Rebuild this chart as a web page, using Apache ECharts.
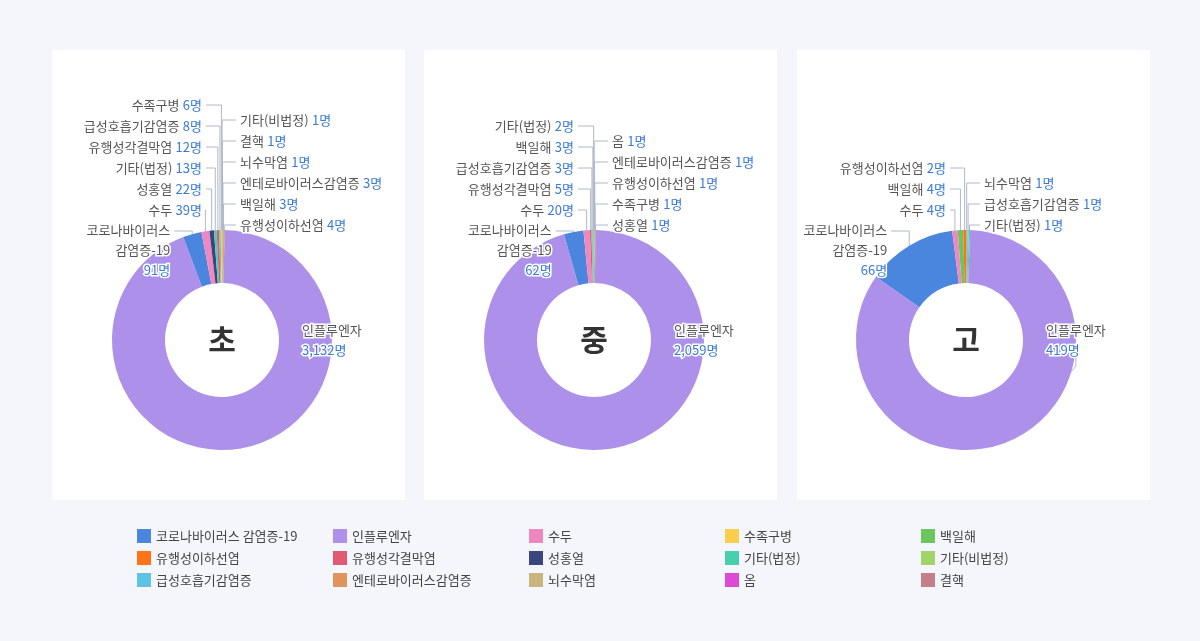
<!DOCTYPE html><html><head><meta charset="utf-8">
<script src="https://cdn.jsdelivr.net/npm/echarts@6/dist/echarts.min.js"></script>
<style>html,body{margin:0;background:#f4f6fb}#c{width:1200px;height:641px}</style></head><body><div id="c"></div>
<script>
const categories=['코로나바이러스 감염증-19','인플루엔자','수두','수족구병','백일해','유행성이하선염','유행성각결막염','성홍열','기타(법정)','기타(비법정)','급성호흡기감염증','엔테로바이러스감염증','뇌수막염','옴','결핵'];
const colors=['#4a86dd','#ad90ea','#ee88c0','#fdcd4e','#6cc55e','#fd7418','#e05a72','#3a4680','#48d0ae','#a3d46a','#5cc4e2','#e0935a','#c9b57c','#dd4bd6','#c28089'];
const schools=['초','중','고'];
// order of slices clockwise from top
const elemNames=['기타(비법정)','결핵','뇌수막염','엔테로바이러스감염증','백일해','유행성이하선염','인플루엔자','코로나바이러스 감염증-19','수두','성홍열','기타(법정)','유행성각결막염','급성호흡기감염증','수족구병'];
const elemValues=[1,1,1,3,3,4,3132,91,39,22,13,12,8,6];
const midNames=['옴','엔테로바이러스감염증','유행성이하선염','수족구병','성홍열','인플루엔자','코로나바이러스 감염증-19','수두','유행성각결막염','급성호흡기감염증','백일해','기타(법정)'];
const midValues=[1,1,1,1,1,2059,62,20,5,3,3,2];
const highNames=['뇌수막염','급성호흡기감염증','기타(법정)','인플루엔자','코로나바이러스 감염증-19','수두','백일해','유행성이하선염'];
const highValues=[1,1,1,419,66,4,4,2];
const sets=[[elemNames,elemValues],[midNames,midValues],[highNames,highValues]];
const centers=[222,594,966];
const panelX=[52,424,797];
const CORONA='코로나바이러스 감염증-19', FLU='인플루엔자';
const richBase={n:{color:'#555',fontSize:13,fontFamily:'Noto Sans CJK KR',lineHeight:20,textBorderColor:'#fff',textBorderWidth:3},
                v:{color:'#3a7bd5',fontSize:13,fontFamily:'Noto Sans CJK KR',lineHeight:20,textBorderColor:'#fff',textBorderWidth:3}};
const series=sets.map((s,i)=>{
  const names=s[0], cx=centers[i], fi=names.indexOf(FLU);
  return {
  type:'pie',center:[cx,340],radius:[57,110],startAngle:90,clockwise:true,
  avoidLabelOverlap:false,minShowLabelAngle:0,
  label:{formatter:p=>'{n|'+p.name+'} {v|'+p.value.toLocaleString()+'명}',rich:richBase},
  labelLine:{length:10,length2:8,lineStyle:{color:'#b0b8c8',width:1}},
  labelLayout:function(p){
    const idx=p.dataIndex, name=names[idx], pts=p.labelLinePoints;
    if(name===FLU) return {x:cx+80,y:340,align:'left',verticalAlign:'middle'};
    const p0=pts?pts[0]:[cx,230];
    if(idx<fi){ // right side
      const k=fi-1-idx, y=225-k*21, x=cx+18;
      return {x:x,y:y,align:'left',verticalAlign:'middle',labelLinePoints:[p0,[cx+3+ (fi-1-idx)*0,y],[x-4,y]].map((q,j)=>j==1?[Math.max(p0[0],cx)+0,y]:q)};
    }
    if(name===CORONA){
      const y=250, x=p0[0]-22;
      return {x:x,y:y,align:'right',verticalAlign:'middle',labelLinePoints:[p0,[p0[0],231],[x+4,231]]};
    }
    const k=idx-fi-2, y=210-k*21, x=cx-20;
    return {x:x,y:y,align:'right',verticalAlign:'middle',labelLinePoints:[p0,[p0[0],y],[x+4,y]]};
  },
  data:names.map((n,j)=>{
    const d={name:n,value:s[1][j],itemStyle:{color:colors[categories.indexOf(n)]}};
    if(n===FLU) d.label={formatter:p=>'{n|인플루엔자}\n{v|'+p.value.toLocaleString()+'명}',align:'left'};
    if(n===CORONA) d.label={formatter:p=>'{n|코로나바이러스}\n{n|감염증-19}\n{v|'+p.value+'명}',align:'right'};
    return d;})
  };
});
const legends=[0,1,2,3,4].map(c=>({orient:'vertical',left:132+196*c,top:524,itemWidth:14,itemHeight:14,itemGap:8,icon:'rect',
    textStyle:{fontSize:13,color:'#444',fontFamily:'Noto Sans CJK KR'},
    data:[c,c+5,c+10].map(i=>({name:categories[i],itemStyle:{color:colors[i]}}))}));
const chart=echarts.init(document.getElementById('c'));
chart.setOption({
  animation:false,
  graphic:[...panelX.map(x=>({type:'rect',z:-10,shape:{x:x,y:50,width:353,height:450},style:{fill:'#fff'}})),
    ...centers.map((c,i)=>({type:'text',z:10,x:c,y:340,style:{text:schools[i],fontSize:30,fontWeight:'bold',fill:'#333',align:'center',verticalAlign:'middle',fontFamily:'Noto Sans CJK KR'}}))],
  legend:legends,
  series
});
</script></body></html>
